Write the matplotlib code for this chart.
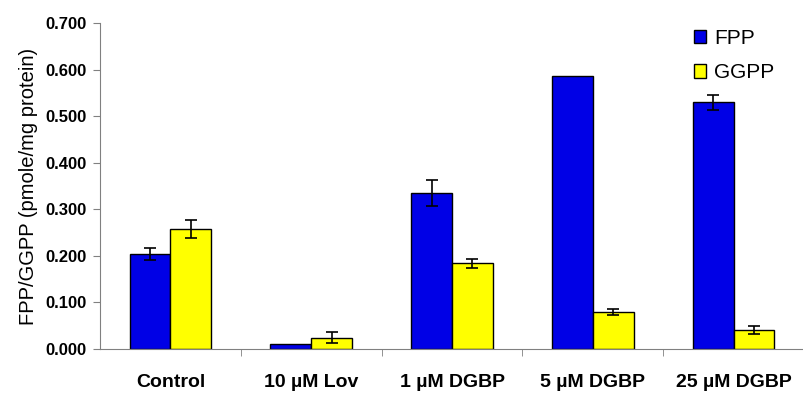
import matplotlib
matplotlib.use('Agg')
import matplotlib.pyplot as plt
import numpy as np

plt.rcParams['font.family'] = ['Liberation Sans', 'DejaVu Sans']

categories = ['Control', '10 µM Lov', '1 µM DGBP', '5 µM DGBP', '25 µM DGBP']
fpp = [0.204, 0.011, 0.335, 0.586, 0.530]
fpp_err = [0.013, 0, 0.028, 0, 0.016]
ggpp = [0.258, 0.024, 0.184, 0.080, 0.041]
ggpp_err = [0.019, 0.012, 0.009, 0.006, 0.008]
yticks = [0.0, 0.1, 0.2, 0.3, 0.4, 0.5, 0.6, 0.7]

fig = plt.figure(figsize=(8.04, 3.94), dpi=100)
ax = fig.add_axes([0.1244, 0.1142, 0.8756, 0.8274])

x = np.arange(len(categories))
w = 0.29
ax.bar(x - w / 2, fpp, w, color='#0000e6', edgecolor='black', linewidth=1, label='FPP')
ax.bar(x + w / 2, ggpp, w, color='#ffff00', edgecolor='black', linewidth=1, label='GGPP')

# error bars only where there is one
for xs, vals, errs in [(x - w / 2, fpp, fpp_err), (x + w / 2, ggpp, ggpp_err)]:
    m = np.array(errs) > 0
    ax.errorbar(xs[m], np.array(vals)[m], yerr=np.array(errs)[m], fmt='none',
                ecolor='black', capsize=4, elinewidth=1.2, capthick=1.2)

ax.set_xlim(-0.5, 4.433)
ax.set_ylim(0, 0.7)
ax.set_yticks(yticks)
ax.set_yticklabels(['%.3f' % v for v in yticks], fontsize=12, fontweight='bold')
ax.set_xticks(x)
ax.set_xticklabels(categories, fontsize=14, fontweight='bold')
ax.tick_params(axis='x', length=0, pad=18)
ax.set_xticks(np.arange(len(categories)) + 0.5, minor=True)
ax.tick_params(axis='x', which='minor', length=5, color='#808080')
ax.tick_params(axis='y', length=5, color='#808080', pad=5)

for s in ['top', 'right']:
    ax.spines[s].set_visible(False)
for s in ['left', 'bottom']:
    ax.spines[s].set_color('#808080')

ax.set_ylabel('FPP/GGPP (pmole/mg protein)', fontsize=14.5, labelpad=5)

ax.legend(loc='upper right', bbox_to_anchor=(0.985, 1.04), frameon=False, fontsize=15,
          handlelength=0.6, handleheight=0.6, handletextpad=0.4, labelspacing=0.75)

fig.savefig('out.png', dpi=100)
